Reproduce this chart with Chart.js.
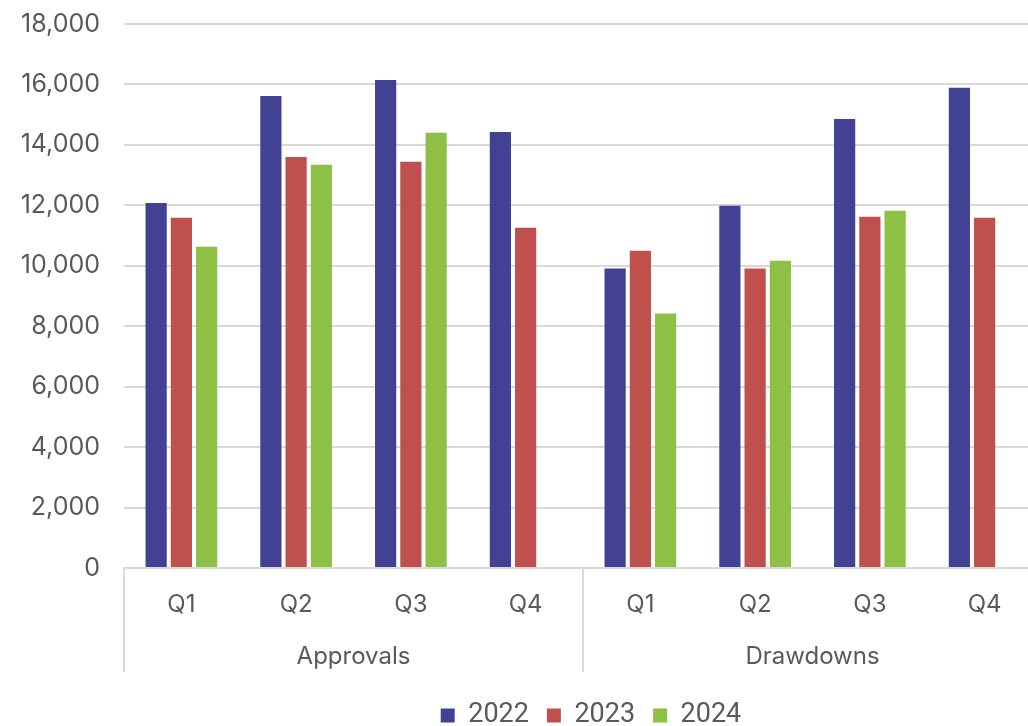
<!DOCTYPE html>
<html>
<head>
<meta charset="utf-8">
<script src="https://cdn.jsdelivr.net/npm/chart.js@4/dist/chart.umd.min.js"></script>
<style>
  html, body { margin: 0; padding: 0; overflow: hidden; background: #fff; }
  #wrap { width: 1182px; height: 726px; }
</style>
</head>
<body>
<div id="wrap"><canvas id="bar-chart"></canvas></div>
<script>
// quarter labels, one per bar group
var quarters = ['Q1', 'Q2', 'Q3', 'Q4', 'Q1', 'Q2', 'Q3', 'Q4'];
// outer category labels
var groups = ['Approvals', 'Drawdowns'];
var yTicks = [0, 2000, 4000, 6000, 8000, 10000, 12000, 14000, 16000, 18000];

var years = ['2022', '2023', '2024'];
var values2022 = [12080, 15620, 16150, 14430, 9910, 11990, 14860, 15890];
var values2023 = [11590, 13600, 13440, 11260, 10500, 9910, 11620, 11590];
var values2024 = [10630, 13340, 14400, null, 8420, 10170, 11820, null];
var colors = ['#434193', '#C0504D', '#8DC044'];

var gridColor = '#d9d9d9';
var textColor = '#595959';

// vertical separators between the outer groups
var separators = {
  id: 'separators',
  afterDraw: function (chart) {
    var x = chart.scales.x, g = chart.scales.x2;
    var ctx = chart.ctx;
    var mid = (g.getPixelForTick(0) + g.getPixelForTick(1)) / 2;
    ctx.save();
    ctx.strokeStyle = gridColor;
    ctx.lineWidth = 2;
    [x.left, mid, x.right].forEach(function (px) {
      ctx.beginPath();
      ctx.moveTo(px, x.top);
      ctx.lineTo(px, g.top + 52);
      ctx.stroke();
    });
    ctx.restore();
  }
};

var datasets_data = [];
[values2022, values2023, values2024].forEach(function (vals, i) {
  datasets_data.push({
    label: years[i],
    data: vals,
    backgroundColor: colors[i],
    borderWidth: 0,
    categoryPercentage: 0.66,
    barPercentage: 0.84
  });
});

new Chart(document.getElementById('bar-chart'), {
  type: 'bar',
  data: {
    labels: quarters,
    datasets: datasets_data
  },
  plugins: [separators],
  options: {
    responsive: true,
    maintainAspectRatio: false,
    animation: false,
    layout: { padding: { top: 0, right: 0, left: 0, bottom: -13 } },
    plugins: {
      tooltip: { enabled: false },
      legend: {
        position: 'bottom',
        labels: {
          color: textColor,
          font: { family: 'Roboto', size: 27 },
          boxWidth: 14,
          boxHeight: 14,
          padding: 18
        }
      }
    },
    scales: {
      x: {
        grid: { display: false, drawTicks: false },
        border: { display: true, color: gridColor, width: 2 },
        ticks: { color: textColor, font: { family: 'Inter', size: 24 }, padding: 22, maxRotation: 0 },
        afterFit: function (scale) { scale.height = 52; }
      },
      x2: {
        type: 'category',
        labels: groups,
        position: 'bottom',
        offset: true,
        grid: { display: false, drawTicks: false },
        border: { display: false },
        ticks: { color: textColor, font: { family: 'Inter', size: 24 }, padding: 22, maxRotation: 0 },
        afterFit: function (scale) { scale.height = 64; }
      },
      y: {
        min: 0,
        max: 18000,
        afterBuildTicks: function (scale) {
          scale.ticks = yTicks.map(function (v) { return { value: v }; });
        },
        grid: { color: gridColor, lineWidth: 2, drawTicks: false },
        border: { display: false },
        ticks: {
          color: textColor,
          font: { family: 'Inter', size: 25 },
          padding: 24,
          callback: function (v) { return v.toLocaleString('en-US'); }
        },
        afterFit: function (scale) {
          scale.width = 124;
          scale.paddingTop = 24;
          scale.paddingBottom = 0;
        }
      },
      // empty right-hand space so the plot runs past the window edge
      yRight: {
        position: 'right',
        min: 0,
        max: 18000,
        grid: { display: false, drawTicks: false },
        border: { display: false },
        ticks: { display: false },
        afterFit: function (scale) {
          scale.width = 140;
          scale.paddingTop = 0;
          scale.paddingBottom = 0;
        }
      }
    }
  }
});
</script>
</body>
</html>
